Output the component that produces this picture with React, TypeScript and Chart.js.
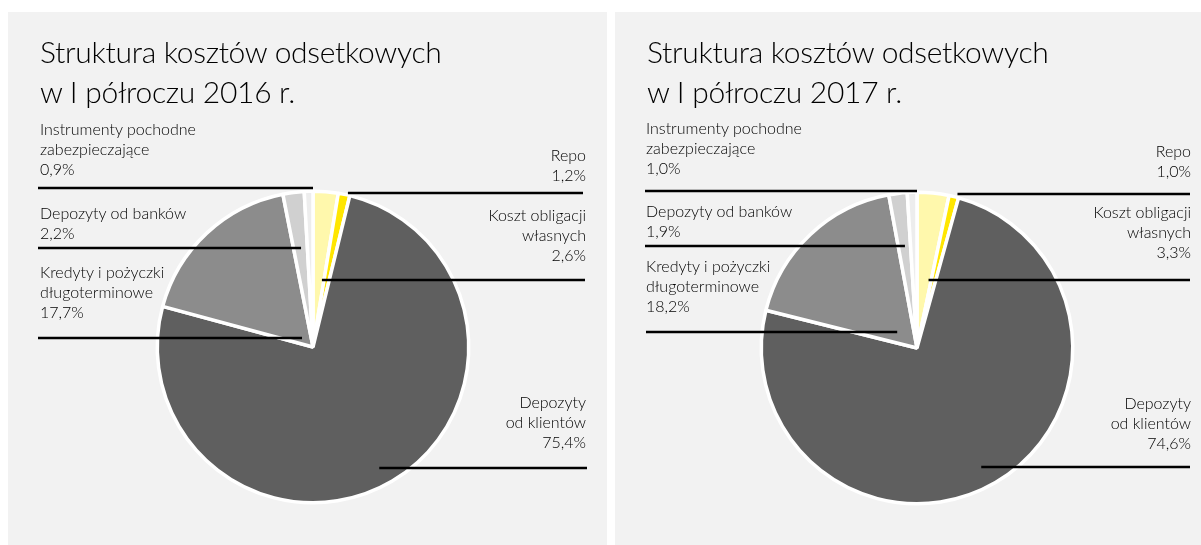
import React, { useEffect, useRef } from "react";
import { Chart, registerables } from "chart.js";

Chart.register(...registerables);

// ---- data ----
const categories = [
  "Koszt obligacji własnych",
  "Repo",
  "Depozyty od klientów",
  "Kredyty i pożyczki długoterminowe",
  "Depozyty od banków",
  "Instrumenty pochodne zabezpieczające",
];
const labelLines = [
  ["Koszt obligacji", "własnych"],
  ["Repo"],
  ["Depozyty", "od klientów"],
  ["Kredyty i pożyczki", "długoterminowe"],
  ["Depozyty od banków"],
  ["Instrumenty pochodne", "zabezpieczające"],
];
const values2016 = [2.6, 1.2, 75.4, 17.7, 2.2, 0.9];
const values2017 = [3.3, 1.0, 74.6, 18.2, 1.9, 1.0];
const titles2016 = ["Struktura kosztów odsetkowych", "w I półroczu 2016 r."];
const titles2017 = ["Struktura kosztów odsetkowych", "w I półroczu 2017 r."];
const sliceColors = ["#FFF8AC", "#FFE600", "#5F5F5F", "#8C8C8C", "#D0D0D0", "#EDEDED"];

// ---- layout (panel coordinates) ----
const PANEL_W = 599;
const PANEL_H = 533;
const RADIUS = 157.5;

type LabelPos = { index: number; side: "left" | "right"; top: number; lineY: number; lineX: number; frac: number };

const layout2016 = {
  left: 8,
  cx: 305,
  cy: 335,
  textLeft: 32,
  textRight: 21,
  labels: [
    { index: 5, side: "left", top: 107, lineY: 176, lineX: 30, frac: 1.0 },
    { index: 4, side: "left", top: 191, lineY: 236, lineX: 30, frac: 0.54 },
    { index: 3, side: "left", top: 250, lineY: 326, lineX: 30, frac: 0.38 },
    { index: 1, side: "right", top: 133, lineY: 181, lineX: 575, frac: 0.79 },
    { index: 0, side: "right", top: 193, lineY: 268, lineX: 577, frac: 0.81 },
    { index: 2, side: "right", top: 380, lineY: 456, lineX: 579, frac: 0.507 },
  ] as LabelPos[],
};
const layout2017 = {
  left: 615,
  cx: 302,
  cy: 336,
  textLeft: 31,
  textRight: 23,
  labels: [
    { index: 5, side: "left", top: 106, lineY: 179, lineX: 30, frac: 1.0 },
    { index: 4, side: "left", top: 189, lineY: 234, lineX: 30, frac: 0.54 },
    { index: 3, side: "left", top: 244, lineY: 320, lineX: 31, frac: 0.38 },
    { index: 1, side: "right", top: 129, lineY: 182, lineX: 575, frac: 0.79 },
    { index: 0, side: "right", top: 190, lineY: 268, lineX: 575, frac: 0.81 },
    { index: 2, side: "right", top: 381, lineY: 455, lineX: 575, frac: 0.507 },
  ] as LabelPos[],
};

const FONT = "Lato, 'Noto Sans', sans-serif";

const fmt = (v: number) => v.toFixed(1).replace(".", ",") + "%";

const leaderPlugin = {
  id: "leaders",
  afterDatasetsDraw(chart: any, _args: any, opts: any) {
    const meta = chart.getDatasetMeta(0);
    const ctx = chart.ctx;
    ctx.save();
    ctx.strokeStyle = "#000";
    ctx.lineWidth = 2.6;
    (opts.items || []).forEach((l: LabelPos) => {
      const arc = meta.data[l.index];
      if (!arc) return;
      const p = arc.getProps(["x", "y", "startAngle", "endAngle"], true);
      const a = p.startAngle + (p.endAngle - p.startAngle) * l.frac;
      const dx = Math.cos(a);
      const dy = Math.sin(a);
      const t = (l.lineY - p.y) / dy;
      const ix = p.x + dx * t;
      ctx.beginPath();
      ctx.moveTo(ix, l.lineY);
      ctx.lineTo(l.lineX, l.lineY);
      ctx.stroke();
    });
    ctx.restore();
  },
};

function Panel({ values, titles, lay }: { values: number[]; titles: string[]; lay: typeof layout2016 }) {
  const ref = useRef<HTMLCanvasElement | null>(null);
  useEffect(() => {
    if (!ref.current) return;
    const chart = new Chart(ref.current, {
      type: "pie",
      data: {
        labels: categories,
        datasets: [
          {
            data: values,
            backgroundColor: sliceColors,
            borderColor: "#FFFFFF",
            borderWidth: 3.5,
          },
        ],
      },
      options: {
        animation: false,
        responsive: false,
        events: [],
        layout: {
          padding: {
            left: lay.cx - RADIUS,
            top: lay.cy - RADIUS,
            right: PANEL_W - (lay.cx + RADIUS),
            bottom: PANEL_H - (lay.cy + RADIUS),
          },
        },
        plugins: {
          legend: { display: false },
          tooltip: { enabled: false },
          title: { display: false },
          leaders: { items: lay.labels },
        } as any,
      },
      plugins: [leaderPlugin],
    });
    return () => chart.destroy();
  }, []);

  return (
    <div
      style={{
        position: "absolute",
        left: lay.left,
        top: 12,
        width: PANEL_W,
        height: PANEL_H,
        background: "#F2F2F2",
        overflow: "hidden",
      }}
    >
      <canvas ref={ref} width={PANEL_W} height={PANEL_H} style={{ position: "absolute", left: 0, top: 0, width: PANEL_W, height: PANEL_H }} />
      <div
        style={{
          position: "absolute",
          left: 32,
          top: 19,
          fontFamily: FONT,
          fontSize: 30,
          fontWeight: 300,
          letterSpacing: "-0.3px",
          lineHeight: "40px",
          color: "#000000",
          whiteSpace: "nowrap",
        }}
      >
        {titles.map((t, i) => (
          <div key={i}>{t}</div>
        ))}
      </div>
      {lay.labels.map((l) => (
        <div
          key={l.index}
          style={{
            position: "absolute",
            top: l.top,
            ...(l.side === "left" ? { left: lay.textLeft, textAlign: "left" } : { right: lay.textRight, textAlign: "right" }),
            fontFamily: FONT,
            fontSize: 16,
            fontWeight: 300,
            lineHeight: "20px",
            color: "#000000",
            whiteSpace: "nowrap",
          }}
        >
          {labelLines[l.index].map((t, i) => (
            <div key={i}>{t}</div>
          ))}
          <div>{fmt(values[l.index])}</div>
        </div>
      ))}
    </div>
  );
}

export default function App() {
  useEffect(() => {
    document.body.style.margin = "0";
    document.body.style.overflow = "hidden";
  }, []);
  return (
    <div style={{ position: "relative", width: 1201, height: 545, overflow: "hidden", background: "#FFFFFF" }}>
      <Panel values={values2016} titles={titles2016} lay={layout2016} />
      <Panel values={values2017} titles={titles2017} lay={layout2017} />
    </div>
  );
}
